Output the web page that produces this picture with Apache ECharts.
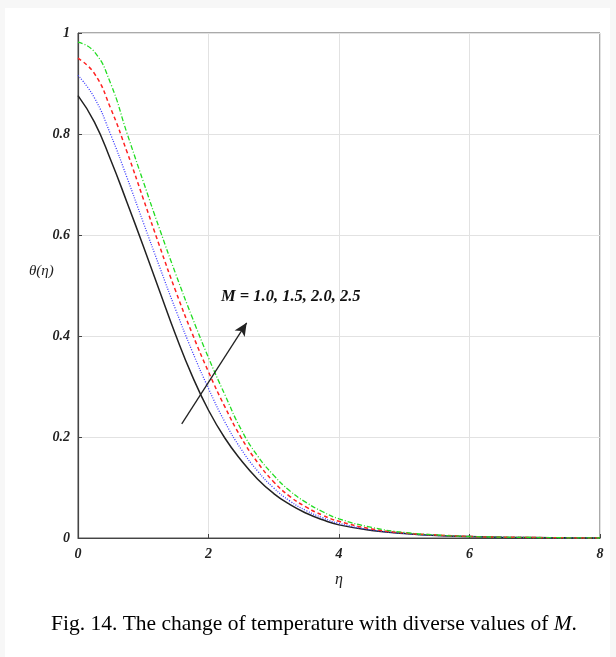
<!DOCTYPE html>
<html>
<head>
<meta charset="utf-8">
<script src="https://cdn.jsdelivr.net/npm/echarts@6/dist/echarts.min.js"></script>
<style>
html,body{margin:0;padding:0;background:#f7f7f7;}
#chart{width:616px;height:657px;}
</style>
</head>
<body>
<div id="chart"></div>
<script>
const eta = [0,0.25,0.5,0.75,1.0,1.25,1.5,1.75,2.0,2.25,2.5,2.75,3.0,3.25,3.5,3.75,4.0,4.5,5.0,5.5,6.0,6.5,7.0,7.5,8.0];
const thetaM10 = [0.876,0.824,0.749,0.665,0.578,0.489,0.401,0.321,0.253,0.198,0.154,0.117,0.088,0.066,0.049,0.036,0.026,0.015,0.009,0.005,0.003,0.0015,0.0008,0.0003,0.0];
const thetaM15 = [0.916,0.872,0.799,0.714,0.625,0.537,0.451,0.370,0.296,0.230,0.176,0.133,0.099,0.073,0.054,0.040,0.029,0.016,0.009,0.005,0.003,0.0015,0.0008,0.0003,0.0];
const thetaM20 = [0.950,0.920,0.851,0.765,0.672,0.578,0.488,0.405,0.329,0.260,0.199,0.150,0.111,0.082,0.061,0.045,0.033,0.018,0.010,0.006,0.003,0.0016,0.0009,0.0003,0.0];
const thetaM25 = [0.982,0.963,0.900,0.802,0.706,0.612,0.522,0.437,0.357,0.284,0.215,0.163,0.124,0.093,0.070,0.052,0.038,0.021,0.011,0.006,0.003,0.0017,0.0009,0.0004,0.0];
const xTicks = [0,2,4,6,8];
const yTicks = [0,0.2,0.4,0.6,0.8,1];
const annotationText = 'M = 1.0, 1.5, 2.0, 2.5';
const arrowFrom = [1.59, 0.226];
const arrowTo = [2.585, 0.426];
const caption = 'Fig. 14. The change of temperature with diverse values of ';

const pairs = arr => eta.map((e,i)=>[e,arr[i]]);
const labelFont = {fontFamily:'Liberation Serif',fontStyle:'italic',fontWeight:'bold',fontSize:14,color:'#222'};

const chart = echarts.init(document.getElementById('chart'), null, {renderer:'canvas'});
chart.setOption({
  backgroundColor:'#f7f7f7',
  animation:false,
  graphic:[
    {type:'rect',z:-10,shape:{x:5,y:8,width:605,height:660},style:{fill:'#ffffff'}},
    {type:'text',left:29,top:264,style:{text:'θ(η)',font:'italic 15px "Liberation Serif"',fill:'#222'}},
    {type:'text',left:221,top:288,style:{text:annotationText,font:'italic bold 16.5px "Liberation Serif"',fill:'#111'}},
    {type:'text',left:51,top:613,style:{rich:{a:{fontFamily:'Liberation Serif',fontSize:21.5,color:'#1f2660'},b:{fontFamily:'Liberation Serif',fontStyle:'italic',fontSize:21.5,color:'#1f2660'}},text:'{a|'+caption+'}{b|M}{a|.}'}}
  ],
  grid:{left:78,right:16,top:33,bottom:119,show:true,borderColor:'#555',borderWidth:1,backgroundColor:'#ffffff'},
  xAxis:{type:'value',min:0,max:8,interval:2,
    name:'η',nameLocation:'middle',nameGap:34,nameTextStyle:{fontFamily:'Liberation Serif',fontStyle:'italic',fontSize:16,color:'#222'},
    axisLine:{show:true,lineStyle:{color:'#444',width:1.2}},
    axisTick:{show:true,inside:true,length:4,lineStyle:{color:'#444'}},
    axisLabel:Object.assign({margin:9,formatter:v=>xTicks.includes(v)?String(v):''},labelFont),
    splitLine:{show:true,lineStyle:{color:'#e2e2e2',width:1}}},
  yAxis:{type:'value',min:0,max:1,interval:0.2,
    axisLine:{show:true,lineStyle:{color:'#444',width:1.2}},
    axisTick:{show:true,inside:true,length:4,lineStyle:{color:'#444'}},
    axisLabel:Object.assign({margin:8,formatter:v=>String(Math.round(v*10)/10)},labelFont),
    splitLine:{show:true,lineStyle:{color:'#e2e2e2',width:1}}},
  series:[
    {type:'line',name:'M=1.0',data:pairs(thetaM10),smooth:0.5,showSymbol:false,
     lineStyle:{color:'#222222',width:1.5,type:'solid'},
     markLine:{silent:true,symbol:['none','arrow'],symbolSize:[9,13],label:{show:false},
       lineStyle:{color:'#222',width:1.3,type:'solid'},
       data:[[{coord:arrowFrom},{coord:arrowTo}]]}},
    {type:'line',name:'M=1.5',data:pairs(thetaM15),smooth:0.5,showSymbol:false,
     lineStyle:{color:'#3a3aff',width:1.3,type:[1,1.5]}},
    {type:'line',name:'M=2.0',data:pairs(thetaM20),smooth:0.5,showSymbol:false,
     lineStyle:{color:'#ff2222',width:1.5,type:[4,3]}},
    {type:'line',name:'M=2.5',data:pairs(thetaM25),smooth:0.5,showSymbol:false,
     lineStyle:{color:'#22dd22',width:1.3,type:[5,2,1,2]}}
  ]
});
</script>
</body>
</html>
